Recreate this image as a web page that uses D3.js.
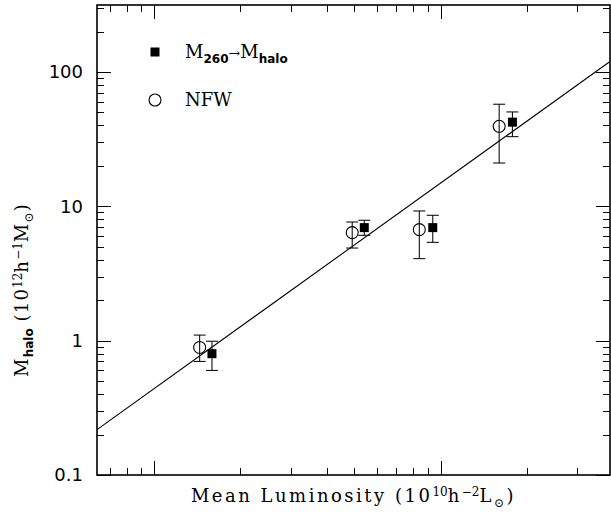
<!DOCTYPE html>
<html>
<head>
<meta charset="utf-8">
<script src="https://cdn.jsdelivr.net/npm/d3@7/dist/d3.min.js"></script>
<style>
  body { margin: 0; background: #fff; }
  text { fill: #000; }
</style>
</head>
<body>
<svg id="chart" width="611" height="519"></svg>
<script>
// mean luminosity (10^10 h^-2 Lsun) and halo mass (10^12 h^-1 Msun)
var lumSq = [1.59, 5.41, 9.38, 17.8];
var massSq = [0.80, 6.94, 6.94, 42.3];
var massSqLo = [0.60, 6.08, 5.39, 33.0];
var massSqHi = [0.99, 7.87, 8.57, 50.4];

var lumNfw = [1.44, 4.91, 8.42, 16.0];
var massNfw = [0.89, 6.37, 6.71, 39.4];
var massNfwLo = [0.70, 4.89, 4.08, 21.0];
var massNfwHi = [1.10, 7.64, 9.23, 57.5];

// power-law fit M = norm * L^slope
var fitSlope = 1.53,
    fitNorm = 0.44;

var yTickValues = [0.1, 1, 10, 100];
var yTickLabels = ["0.1", "1", "10", "100"];

var svg = d3.select("#chart"),
    pLeft = 97, pRight = 610, pTop = 5, pBottom = 475;

var x = d3.scaleLog().domain([0.631, 39.0]).range([pLeft, pRight]);
var y = d3.scaleLog().domain([0.1, 315]).range([pBottom, pTop]);

var serif = "'DejaVu Serif', serif",
    sans = "'DejaVu Sans', sans-serif";

function isMajor(v) { return Math.abs(Math.log10(v) - Math.round(Math.log10(v))) < 1e-6; }

// ticks on all four sides
var tickG = svg.append("g").attr("stroke", "#000").attr("stroke-width", 1);

x.ticks().forEach(function(v) {
  var px = Math.round(x(v)) + 0.5, len = isMajor(v) ? 14 : 7;
  tickG.append("line").attr("x1", px).attr("x2", px).attr("y1", pBottom).attr("y2", pBottom - len);
  tickG.append("line").attr("x1", px).attr("x2", px).attr("y1", pTop).attr("y2", pTop + len);
});

y.ticks().forEach(function(v) {
  var py = Math.round(y(v)) + 0.5, len = isMajor(v) ? 14 : 7;
  tickG.append("line").attr("x1", pLeft).attr("x2", pLeft + len).attr("y1", py).attr("y2", py);
  tickG.append("line").attr("x1", pRight).attr("x2", pRight - len).attr("y1", py).attr("y2", py);
});

// frame
svg.append("rect")
    .attr("x", pLeft).attr("y", pTop)
    .attr("width", pRight - pLeft).attr("height", pBottom - pTop)
    .attr("fill", "none").attr("stroke", "#000").attr("stroke-width", 1.6);

// y tick labels
svg.append("g").selectAll("text")
  .data(yTickValues)
  .enter().append("text")
    .attr("x", 83)
    .attr("y", function(d) { return y(d); })
    .attr("dy", "0.36em")
    .attr("text-anchor", "end")
    .attr("font-family", sans)
    .attr("font-size", 18)
    .text(function(d, i) { return yTickLabels[i]; });

// fit line
var line = d3.line()
    .x(function(d) { return x(d); })
    .y(function(d) { return y(fitNorm * Math.pow(d, fitSlope)); });
svg.append("path")
    .datum(x.domain())
    .attr("d", line)
    .attr("fill", "none")
    .attr("stroke", "#000")
    .attr("stroke-width", 1.1);

// error bars
function errorBars(xs, lo, hi) {
  var g = svg.append("g").attr("stroke", "#111").attr("stroke-width", 1.1);
  xs.forEach(function(l, i) {
    var px = x(l);
    g.append("line").attr("x1", px).attr("x2", px).attr("y1", y(lo[i])).attr("y2", y(hi[i]));
    g.append("line").attr("x1", px - 6).attr("x2", px + 6).attr("y1", y(lo[i])).attr("y2", y(lo[i]));
    g.append("line").attr("x1", px - 6).attr("x2", px + 6).attr("y1", y(hi[i])).attr("y2", y(hi[i]));
  });
}
errorBars(lumNfw, massNfwLo, massNfwHi);
errorBars(lumSq, massSqLo, massSqHi);

svg.append("g").selectAll("circle")
  .data(lumNfw)
  .enter().append("circle")
    .attr("cx", function(d) { return x(d); })
    .attr("cy", function(d, i) { return y(massNfw[i]); })
    .attr("r", 6)
    .attr("fill", "none")
    .attr("stroke", "#000")
    .attr("stroke-width", 1.1);

svg.append("g").selectAll("rect")
  .data(lumSq)
  .enter().append("rect")
    .attr("x", function(d) { return x(d) - 4.5; })
    .attr("y", function(d, i) { return y(massSq[i]) - 4.5; })
    .attr("width", 9)
    .attr("height", 9)
    .attr("fill", "#000");

// legend
svg.append("rect").attr("x", 150.5).attr("y", 47.5).attr("width", 9).attr("height", 9).attr("fill", "#000");
svg.append("circle").attr("cx", 155).attr("cy", 100).attr("r", 6)
    .attr("fill", "none").attr("stroke", "#000").attr("stroke-width", 1.1);

var leg1 = svg.append("text").attr("x", 185).attr("y", 58)
    .attr("font-family", serif).attr("font-size", 18);
leg1.append("tspan").text("M");
leg1.append("tspan").attr("dy", 5).attr("font-size", 12).attr("font-family", sans).attr("font-weight", "bold").text("260");
leg1.append("tspan").attr("dy", -5).attr("font-size", 14).text("→");
leg1.append("tspan").text("M");
leg1.append("tspan").attr("dy", 5).attr("font-size", 12).attr("font-family", sans).attr("font-weight", "bold").text("halo");

svg.append("text").attr("x", 185).attr("y", 106)
    .attr("font-family", serif).attr("font-size", 18)
    .text("NFW");

// x axis label
var xl = svg.append("text")
    .attr("x", (pLeft + pRight) / 2).attr("y", 502)
    .attr("text-anchor", "middle")
    .attr("font-family", serif).attr("font-size", 18).attr("letter-spacing", 2.5);
xl.append("tspan").text("Mean Luminosity (10");
xl.append("tspan").attr("dy", -6).attr("font-size", 12).attr("letter-spacing", 0).text("10");
xl.append("tspan").attr("dy", 6).text("h");
xl.append("tspan").attr("dy", -6).attr("font-size", 12).attr("letter-spacing", 0).text("−2");
xl.append("tspan").attr("dy", 6).text("L");
xl.append("tspan").attr("dy", 5).attr("font-size", 12).text("⊙");
xl.append("tspan").attr("dy", -5).text(")");

// y axis label
var yl = svg.append("text")
    .attr("transform", "translate(28,290)rotate(-90)")
    .attr("text-anchor", "middle")
    .attr("font-family", serif).attr("font-size", 18).attr("letter-spacing", 1.2);
yl.append("tspan").text("M");
yl.append("tspan").attr("dy", 5).attr("font-size", 12).attr("font-family", sans).attr("font-weight", "bold").attr("letter-spacing", 0).text("halo");
yl.append("tspan").attr("dy", -5).text(" (10");
yl.append("tspan").attr("dy", -6).attr("font-size", 12).attr("letter-spacing", 0).text("12");
yl.append("tspan").attr("dy", 6).text("h");
yl.append("tspan").attr("dy", -6).attr("font-size", 12).attr("letter-spacing", 0).text("−1");
yl.append("tspan").attr("dy", 6).text("M");
yl.append("tspan").attr("dy", 5).attr("font-size", 12).text("⊙");
yl.append("tspan").attr("dy", -5).text(")");
</script>
</body>
</html>
